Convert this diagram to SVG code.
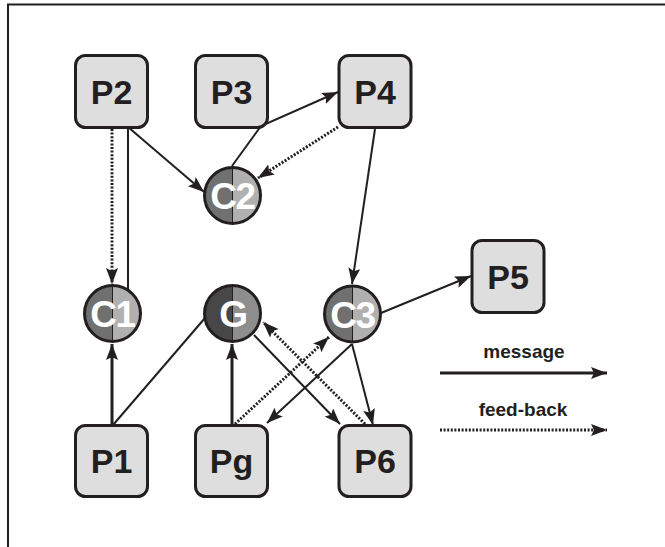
<svg xmlns="http://www.w3.org/2000/svg" width="665" height="547" viewBox="0 0 665 547">
<style>
.box{fill:#dedede;stroke:#231f20;stroke-width:3}
.bl{font-family:"Liberation Sans",Arial,sans-serif;font-weight:bold;font-size:34px;fill:#231f20;text-anchor:middle}
.cl{font-family:"Liberation Sans",Arial,sans-serif;font-weight:bold;font-size:37px;letter-spacing:-1.5px;fill:#ffffff;text-anchor:middle}
.ring{fill:none;stroke:#231f20;stroke-width:3}
.div{stroke:#231f20;stroke-width:1}
.s{fill:none;stroke:#231f20;stroke-width:2}
.d{fill:none;stroke:#231f20;stroke-width:3;stroke-dasharray:2 1.6}
.leg{font-family:"Liberation Sans",Arial,sans-serif;font-weight:bold;font-size:19px;fill:#231f20;text-anchor:middle}
.lt{fill:#707070}.rt{fill:#b0b0b0}.lg{fill:#474747}.rg{fill:#8e8e8e}
</style>
<defs>
<marker id="ah" markerUnits="userSpaceOnUse" markerWidth="16" markerHeight="12" refX="16" refY="6" orient="auto" viewBox="0 0 16 12">
<path d="M0,0 L16,6 L0,12 L3,6 Z" fill="#231f20"/>
</marker>
</defs>
<rect x="0" y="0" width="665" height="547" fill="#ffffff"/>
<path d="M8,547 L8,4.5 L665,4.5" fill="none" stroke="#231f20" stroke-width="2"/>
<g id="connectors">
<line class="d" x1="112" y1="129" x2="112" y2="284" marker-end="url(#ah)"/>
<line class="s" x1="128" y1="129" x2="128" y2="290"/>
<line class="s" x1="128" y1="127" x2="204" y2="192" marker-end="url(#ah)"/>
<polyline class="s" points="232,166 261,126 338,92" marker-end="url(#ah)"/>
<line class="d" x1="338" y1="127" x2="258" y2="178" marker-end="url(#ah)"/>
<line class="s" x1="375" y1="129" x2="352" y2="284" marker-end="url(#ah)"/>
<line class="s" x1="381" y1="313" x2="471" y2="276" marker-end="url(#ah)"/>
<line class="s" style="stroke-width:3" x1="112" y1="425" x2="112" y2="344" marker-end="url(#ah)"/>
<line class="s" x1="113" y1="425" x2="205" y2="318"/>
<line class="s" style="stroke-width:3" x1="232" y1="425" x2="232" y2="344" marker-end="url(#ah)"/>
<line class="d" x1="235" y1="424" x2="329" y2="337" marker-end="url(#ah)"/>
<line class="s" x1="352" y1="344" x2="267" y2="423" marker-end="url(#ah)"/>
<line class="s" x1="254" y1="335" x2="340" y2="424" marker-end="url(#ah)"/>
<line class="d" x1="365" y1="424" x2="263" y2="322" marker-end="url(#ah)"/>
<line class="s" x1="352" y1="344" x2="373" y2="425" marker-end="url(#ah)"/>
</g>
<g id="P2"><rect class="box" x="75.5" y="55.5" width="72" height="72" rx="10"/><text class="bl" x="111.5" y="103.5">P2</text></g>
<g id="P3"><rect class="box" x="195.5" y="55.5" width="72" height="72" rx="10"/><text class="bl" x="231.5" y="103.5">P3</text></g>
<g id="P4"><rect class="box" x="339" y="55.5" width="72" height="72" rx="10"/><text class="bl" x="375" y="103.5">P4</text></g>
<g id="P5"><rect class="box" x="472" y="240.5" width="72" height="72" rx="10"/><text class="bl" x="508" y="288.5">P5</text></g>
<g id="P1"><rect class="box" x="75.5" y="425.5" width="72" height="71" rx="10"/><text class="bl" x="111.5" y="473">P1</text></g>
<g id="Pg"><rect class="box" x="195.5" y="425.5" width="72" height="71" rx="10"/><text class="bl" x="231.5" y="473">Pg</text></g>
<g id="P6"><rect class="box" x="339" y="425.5" width="72" height="71" rx="10"/><text class="bl" x="375" y="473">P6</text></g>
<g id="C2">
<path class="lt" d="M232.5,167.5 A28,28 0 0 0 232.5,223.5 Z"/><path class="rt" d="M232.5,167.5 A28,28 0 0 1 232.5,223.5 Z"/>
<line class="div" x1="232.5" y1="167.5" x2="232.5" y2="223.5"/>
<text class="cl" x="232.5" y="209">C2</text>
<circle class="ring" cx="232.5" cy="195.5" r="28"/>
</g>
<g id="C1">
<path class="lt" d="M112.5,285.5 A28,28 0 0 0 112.5,341.5 Z"/><path class="rt" d="M112.5,285.5 A28,28 0 0 1 112.5,341.5 Z"/>
<line class="div" x1="112.5" y1="285.5" x2="112.5" y2="341.5"/>
<text class="cl" x="112.5" y="327">C1</text>
<circle class="ring" cx="112.5" cy="313.5" r="28"/>
</g>
<g id="G">
<path class="lg" d="M232.5,285.5 A28,28 0 0 0 232.5,341.5 Z"/><path class="rg" d="M232.5,285.5 A28,28 0 0 1 232.5,341.5 Z"/>
<line class="div" x1="232.5" y1="285.5" x2="232.5" y2="341.5"/>
<text class="cl" x="233" y="327">G</text>
<circle class="ring" cx="232.5" cy="313.5" r="28"/>
</g>
<g id="C3">
<path class="lt" d="M352.5,286 A28,28 0 0 0 352.5,342 Z"/><path class="rt" d="M352.5,286 A28,28 0 0 1 352.5,342 Z"/>
<line class="div" x1="352.5" y1="286" x2="352.5" y2="342"/>
<text class="cl" x="352.5" y="327.5">C3</text>
<circle class="ring" cx="352.5" cy="314" r="28"/>
</g>
<g id="legend">
<text class="leg" x="524" y="358">message</text>
<line class="s" style="stroke-width:3" x1="440" y1="373" x2="607" y2="373" marker-end="url(#ah)"/>
<text class="leg" x="523" y="416">feed-back</text>
<line class="d" x1="440" y1="430" x2="607" y2="430" marker-end="url(#ah)"/>
</g>
</svg>
